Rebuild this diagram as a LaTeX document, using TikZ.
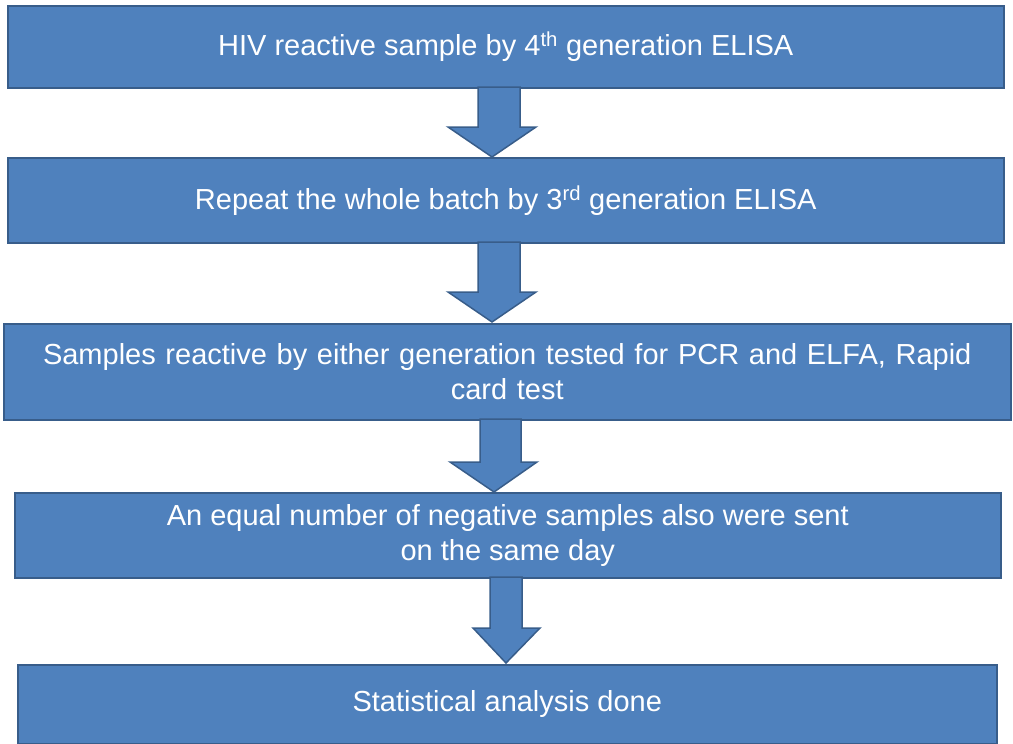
\documentclass[tikz,border=0pt]{standalone}
\usepackage{fontspec}
\setmainfont{Liberation Sans}
\definecolor{boxfill}{HTML}{4F81BD}
\definecolor{boxline}{HTML}{385D8A}
\begin{document}
\begin{tikzpicture}[x=1pt,y=-1pt,
  box/.style={draw=boxline,fill=boxfill,line width=1.5pt,text=white,align=center,
    font=\fontsize{29}{35}\selectfont},
  arr/.style={draw=boxline,fill=boxfill,line width=1.5pt,line join=miter}]
\useasboundingbox (0,0) rectangle (1013,744);
\node[box,minimum width=996pt,minimum height=82pt,anchor=north west] (b1) at (7,5) {HIV reactive sample by 4\textsuperscript{th} generation ELISA};
\node[box,minimum width=996pt,minimum height=85pt,anchor=north west] (b2) at (7,157) {Repeat the whole batch by 3\textsuperscript{rd} generation ELISA};
\node[box,minimum width=1007pt,minimum height=96pt,anchor=north west,text width=990pt] (b3) at (3,323) {Samples reactive by either generation tested for PCR and ELFA, Rapid\\card test};
\node[box,minimum width=986pt,minimum height=85pt,anchor=north west] (b4) at (14,492) {An equal number of negative samples also were sent\\on the same day};
\node[box,minimum width=979pt,minimum height=79pt,anchor=north west] (b5) at (17,664) {Statistical analysis done};
\draw[arr] (478,87) -- (478,127) -- (448,127) -- (492,157) -- (536,127) -- (520,127) -- (520,87) -- cycle;
\draw[arr] (478,242) -- (478,292) -- (448,292) -- (492,322) -- (536,292) -- (520,292) -- (520,242) -- cycle;
\draw[arr] (480,419) -- (480,462) -- (450,462) -- (494,492) -- (537,462) -- (521,462) -- (521,419) -- cycle;
\draw[arr] (490,577) -- (490,628) -- (473,628) -- (506,663) -- (540,628) -- (522,628) -- (522,577) -- cycle;
\end{tikzpicture}
\end{document}
